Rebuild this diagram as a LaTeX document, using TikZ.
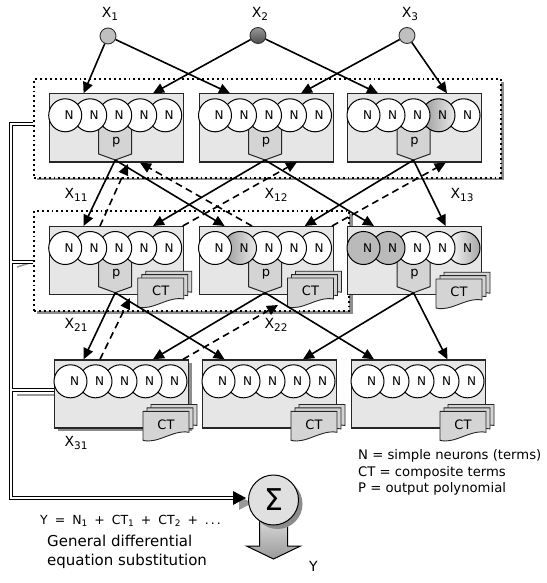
\documentclass[tikz,border=0pt]{standalone}
\usepackage{fontspec}
\setmainfont{DejaVu Sans}
\usetikzlibrary{arrows.meta}

\definecolor{blockfill}{HTML}{E6E6E6}
\definecolor{pfill}{HTML}{D4D4D4}
\definecolor{shadowgray}{HTML}{8C8C8C}

\tikzset{
  blockbox/.style={draw=black!85, line width=1.2pt, fill=blockfill, minimum width=134pt, minimum height=68pt, inner sep=0pt, anchor=north west},
  neuron/.style={circle, draw=black, line width=1pt, minimum size=33pt, inner sep=0pt},
  nw/.style={fill=white},
  ngl/.style={left color=black!40, right color=black!8},
  ngr/.style={left color=white, right color=black!35},
  ngs/.style={fill=black!27},
  ntext/.style={inner sep=0pt, font=\fontsize{12}{12}\selectfont},
  ptext/.style={inner sep=0pt, font=\fontsize{13}{13}\selectfont},
  cttext/.style={inner sep=0pt, font=\fontsize{13}{13}\selectfont},
  pentbox/.style={draw=black!85, line width=1pt, fill=pfill},
  ctsheet/.style={draw=black!85, line width=0.9pt, fill=pfill},
  groupbox/.style={draw=black, fill=white, line width=1.9pt, dash pattern=on 1.9pt off 3pt, anchor=north west, inner sep=0pt},
  inputnode/.style={circle, draw=black!80, line width=0.9pt, minimum size=16pt, inner sep=0pt},
  conn/.style={line width=1.6pt, -{Triangle[length=11pt,width=10pt]}},
  dconn/.style={conn, dash pattern=on 7pt off 4.5pt},
  busblack/.style={draw=black, line width=1pt, double=white, double distance=2.2pt},
  busgray/.style={draw=black!40, line width=1.6pt},
  lbl/.style={inner sep=0pt},
  sigmanode/.style={circle, draw=black, line width=1pt, fill=black!12, minimum size=50pt, inner sep=0pt, font=\fontsize{30}{30}\selectfont},
  downarrow/.style={draw=black, line width=1pt, top color=black!12, bottom color=black!40},
}

\newcommand{\xlbl}[1]{\fontsize{14}{14}\selectfont X\raisebox{-3pt}{\fontsize{10.5}{10.5}\selectfont #1}}
\newcommand{\eqsp}{\hspace{7pt}}
\newcommand{\eqsub}[1]{\raisebox{-2pt}{\fontsize{9}{9}\selectfont #1}}

\newcommand{\nnblock}[9]{%
  \node[blockbox] (#1) at (#2,#3) {};
  \ifnum#9=1
    \filldraw[pentbox] ({#2+50},{#3+33.4}) -- ({#2+83},{#3+33.4}) -- ({#2+83},{#3+60.7}) -- ({#2+66.5},{#3+66.7}) -- ({#2+50},{#3+60.7}) -- cycle;
    \coordinate (#1p) at ({#2+66.5},{#3+66.7});
    \node[ptext] (#1pt) at ({#2+67.5},{#3+48.5}) {p};
  \fi
  \foreach \k/\s in {4/#8,3/#7,2/#6,1/#5,0/#4}{
    \node[neuron,\s] (#1n\k) at ({#2+16.5+25*\k},{#3+22}) {};
    \node[ntext] (#1l\k) at ({#2+20.5+25*\k},{#3+22}) {N};
  }%
}

\newcommand{\ctstack}[3]{%
  \foreach \o in {8,4,0}{
    \filldraw[ctsheet] ({#2+\o},{#3-0.85*\o}) -- ({#2+46+\o},{#3-0.85*\o}) -- ({#2+46+\o},{#3+21-0.85*\o})
      .. controls ({#2+30+\o},{#3+18-0.85*\o}) and ({#2+15+\o},{#3+33-0.85*\o}) .. ({#2+\o},{#3+29-0.85*\o}) -- cycle;
  }
  \node[cttext] (#1) at ({#2+23},{#3+13}) {CT};
}

\begin{document}
\begin{tikzpicture}[x=1pt,y=-1pt]
\path[use as bounding box, fill=white] (0,0) rectangle (546,583);

% ---------- bus (feedback lines) ----------
\coordinate (g1in) at (33,124);
\coordinate (g2in) at (33,262);
\coordinate (b31in) at (54,390);
\coordinate (busTop) at (11,124);
\coordinate (busBot) at (11,498);
\coordinate (sigin) at (234,498);
\begin{scope}[shift={(6,5)}]
  \draw[busgray] (11,262) -- (g2in);
  \draw[busgray] (11,390) -- (48,390);
  \draw[busgray] (g1in) -- (busTop) -- (busBot) -- (sigin);
  \fill[black!40] (246,498) -- (233,491) -- (233,505) -- cycle;
\end{scope}
\draw[busblack] (g1in) -- (busTop) -- (busBot) -- (sigin);
\draw[busblack] (11.8,262) -- (g2in);
\draw[busblack] (11.8,390) -- (b31in);
\fill[black] (246,498) -- (233,491) -- (233,505) -- cycle;

% ---------- group boxes ----------
\fill[shadowgray] (37,81.8) rectangle (503.5,180.3);
\node[groupbox, minimum width=467pt, minimum height=98.4pt] (g1) at (33,78.3) {};
\fill[shadowgray] (37,213.5) rectangle (352.5,313.5);
\node[groupbox, minimum width=315pt, minimum height=100pt] (g2) at (33,210) {};

% ---------- blocks ----------
\nnblock{b11}{48.7}{93.3}{nw}{nw}{nw}{nw}{nw}{1}
\nnblock{b12}{198.5}{93.3}{nw}{nw}{nw}{nw}{nw}{1}
\nnblock{b13}{347}{93.3}{nw}{nw}{nw}{ngl}{nw}{1}

\nnblock{b21}{48.7}{226}{nw}{nw}{nw}{nw}{nw}{1}
\nnblock{b22}{198.5}{226}{nw}{ngl}{nw}{nw}{nw}{1}
\nnblock{b23}{347}{226}{ngs}{ngs}{nw}{nw}{ngr}{1}

\fill[shadowgray] (58,363.3) rectangle (192,431);
\nnblock{b31}{54}{359.3}{nw}{nw}{nw}{nw}{nw}{0}
\nnblock{b32}{202}{359.3}{nw}{nw}{nw}{nw}{nw}{0}
\nnblock{b33}{351}{359.3}{nw}{nw}{nw}{nw}{nw}{0}

% ---------- composite terms ----------
\ctstack{c21}{137.7}{278}
\ctstack{c22}{287.5}{278}
\ctstack{c23}{436}{279}
\ctstack{c31}{143}{411.3}
\ctstack{c32}{291}{411.3}
\ctstack{c33}{440}{411.3}

% ---------- inputs ----------
\node[inputnode, fill=black!25] (in1) at (108,36) {};
\node[inputnode, top color=black!40, bottom color=black!70] (in2) at (258,35.5) {};
\node[inputnode, fill=black!25] (in3) at (407,35.5) {};
\node[lbl] (lx1) at (110,14) {\xlbl{1}};
\node[lbl] (lx2) at (260,14) {\xlbl{2}};
\node[lbl] (lx3) at (410,14) {\xlbl{3}};

% ---------- arrow targets ----------
\coordinate (t1a) at (83.6,93.3);  \coordinate (t1b) at (153,93.3);
\coordinate (t1c) at (230,93.3);   \coordinate (t1d) at (301,93.3);
\coordinate (t1e) at (378,93.3);   \coordinate (t1f) at (447,93.3);
\coordinate (t2a) at (83.6,226);   \coordinate (t2b) at (153,226);
\coordinate (t2c) at (224.6,226);  \coordinate (t2d) at (304.7,226);
\coordinate (t2e) at (374,226);    \coordinate (t2f) at (445.7,226);
\coordinate (t3a) at (83.6,359.3); \coordinate (t3b) at (153,359.3);
\coordinate (t3c) at (224.6,359.3);\coordinate (t3d) at (303,359.3);
\coordinate (t3e) at (374,359.3);  \coordinate (t3f) at (447.4,359.3);

% ---------- solid arrows ----------
\draw[conn] (in1) -- (t1a);
\draw[conn] (in1) -- (t1c);
\draw[conn] (in2) -- (t1b);
\draw[conn] (in2) -- (t1e);
\draw[conn] (in3) -- (t1d);
\draw[conn] (in3) -- (t1f);

\draw[conn] (b11p) -- (t2a);
\draw[conn] (b11p) -- (t2c);
\draw[conn] (b12p) -- (t2b);
\draw[conn] (b12p) -- (t2e);
\draw[conn] (b13p) -- (t2d);
\draw[conn] (b13p) -- (t2f);

\draw[conn] (b21p) -- (t3a);
\draw[conn] (b21p) -- (t3c);
\draw[conn] (b22p) -- (t3b);
\draw[conn] (b22p) -- (t3e);
\draw[conn] (b23p) -- (t3d);
\draw[conn] (b23p) -- (t3f);

% ---------- dashed feedback arrows ----------
\coordinate (d1s) at (100,226);   \coordinate (d1e) at (128,164);
\coordinate (d2s) at (252,226);   \coordinate (d2e) at (140,162.7);
\coordinate (d3s) at (182.7,226); \coordinate (d3e) at (297,162);
\coordinate (d4s) at (332,226);   \coordinate (d4e) at (445.7,162.7);
\coordinate (d5s) at (100,359.3); \coordinate (d5e) at (130,298);
\coordinate (d6s) at (183,359.3); \coordinate (d6e) at (278,305);
\draw[dconn] (d1s) -- (d1e);
\draw[dconn] (d2s) -- (d2e);
\draw[dconn] (d3s) -- (d3e);
\draw[dconn] (d4s) -- (d4e);
\draw[dconn] (d5s) -- (d5e);
\draw[dconn] (d6s) -- (d6e);

% ---------- intermediate labels ----------
\node[lbl] (lx11) at (76,195) {\xlbl{11}};
\node[lbl] (lx12) at (276,195) {\xlbl{12}};
\node[lbl] (lx13) at (462,195) {\xlbl{13}};
\node[lbl] (lx21) at (76,325) {\xlbl{21}};
\node[lbl] (lx22) at (276,325) {\xlbl{22}};
\node[lbl] (lx31) at (76,443) {\xlbl{31}};

% ---------- output ----------
\filldraw[downarrow] (259.5,515) -- (287.5,515) -- (287.5,546) -- (300.5,546) -- (273.5,559) -- (246.5,546) -- (259.5,546) -- cycle;
\fill[shadowgray] (277.5,504) circle (25);
\node[sigmanode] (sig) at (273.5,500) {Σ};
\node[lbl, font=\fontsize{14}{14}\selectfont] (ylab) at (313.5,566) {Y};

\node[lbl, anchor=west, font=\fontsize{12.5}{12.5}\selectfont] (eq) at (40,521) {Y\eqsp=\eqsp N\eqsub{1}\eqsp+\eqsp CT\eqsub{1}\eqsp+\eqsp CT\eqsub{2}\eqsp+\eqsp.\hspace{2pt}.\hspace{2pt}.};
\node[lbl, anchor=west, font=\fontsize{15}{15}\selectfont] (gen1) at (47,541) {General differential};
\node[lbl, anchor=west, font=\fontsize{15}{15}\selectfont] (gen2) at (47,561.5) {equation substitution};

\node[lbl, anchor=west, font=\fontsize{13.2}{13.2}\selectfont] (leg1) at (358,456) {N = simple neurons (terms)};
\node[lbl, anchor=west, font=\fontsize{13.2}{13.2}\selectfont] (leg2) at (358,472.5) {CT = composite terms};
\node[lbl, anchor=west, font=\fontsize{13.2}{13.2}\selectfont] (leg3) at (358,489) {P = output polynomial};
\end{tikzpicture}
\end{document}
